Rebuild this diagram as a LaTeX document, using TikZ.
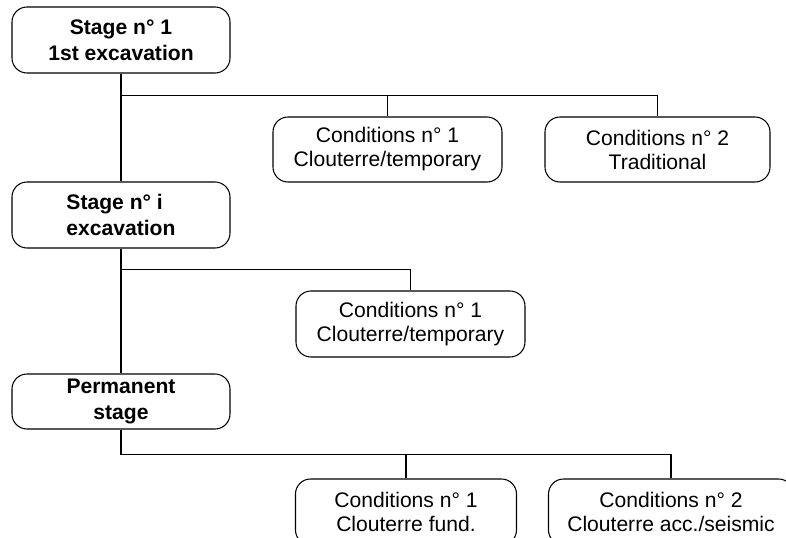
\documentclass[tikz,border=0pt]{standalone}
\usepackage{fontspec}
\setmainfont{Liberation Sans}
\usetikzlibrary{calc}
\tikzset{>=latex}
\tikzstyle{stage}=[rectangle,draw=black,line width=0.6pt,rounded corners=0.3cm,minimum width=4.36cm,minimum height=1.32cm,align=center,font=\fontsize{12}{14.5}\selectfont\bfseries]
\tikzstyle{cond}=[rectangle,draw=black,line width=0.6pt,rounded corners=0.3cm,minimum height=1.30cm,align=center,font=\fontsize{12}{13.7}\selectfont]

\begin{document}
\begin{tikzpicture}[inner sep=1mm, line width=0.6pt]
	\useasboundingbox (0,0) rectangle (15.72,-10.76);

	\node[stage] (stage1) at (2.42, -0.80) {Stage n° 1\\1st excavation};
	\node[stage, align=left] (stage2) at (2.42, -4.30) {Stage n° i\\excavation};
	\node[stage, minimum height=1.10cm] (stage3) at (2.42, -8.03) {Permanent\\stage};

	\node[cond, minimum width=4.58cm] (cond11) at (7.75, -2.99) {Conditions n° 1\\Clouterre/temporary};
	\node[cond, minimum width=4.50cm] (cond12) at (13.15, -2.99) {Conditions n° 2\\Traditional};
	\node[cond, minimum width=4.58cm, minimum height=1.32cm] (cond21) at (8.21, -6.48) {Conditions n° 1\\Clouterre/temporary};
	\node[cond, minimum width=4.42cm, minimum height=1.32cm] (cond31) at (8.12, -10.24) {Conditions n° 1\\Clouterre fund.};
	\node[cond, minimum width=4.90cm, minimum height=1.32cm] (cond32) at (13.42, -10.24) {Conditions n° 2\\Clouterre acc./seismic};

	\coordinate (fork1) at ($(stage1.south)+(0,-0.44)$);
	\coordinate (fork2) at ($(stage2.south)+(0,-0.42)$);
	\coordinate (fork3) at ($(stage3.south)+(0,-0.50)$);

	\draw[-] (stage1) -- (stage2);
	\draw[-] (stage2) -- (stage3);
	\draw[-] (stage3) -- (fork3);
	\draw[-] (fork1) -| (cond11);
	\draw[-] (fork1) -| (cond12);
	\draw[-] (fork2) -| (cond21);
	\draw[-] (fork3) -| (cond31);
	\draw[-] (fork3) -| (cond32);
\end{tikzpicture}
\end{document}
